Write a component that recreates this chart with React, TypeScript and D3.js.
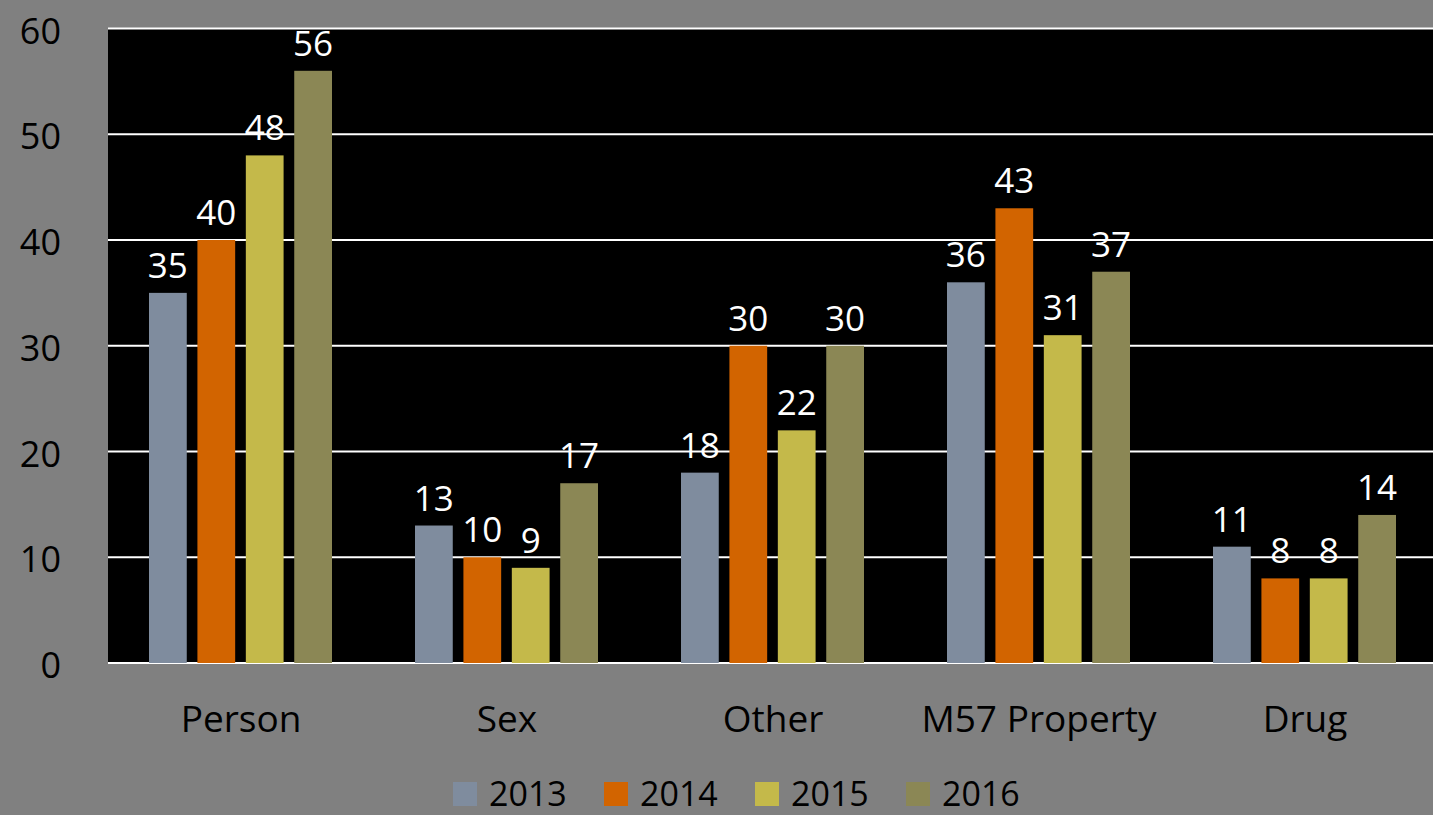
import React, { useEffect, useRef } from "react";
import * as d3 from "d3";

const categories = ["Person", "Sex", "Other", "M57 Property", "Drug"];
const years = ["2013", "2014", "2015", "2016"];
const values2013 = [35, 13, 18, 36, 11];
const values2014 = [40, 10, 30, 43, 8];
const values2015 = [48, 9, 22, 31, 8];
const values2016 = [56, 17, 30, 37, 14];
const yTicks = [0, 10, 20, 30, 40, 50, 60];
const colors = ["#7f8c9e", "#d26400", "#c4b94a", "#8b8755"];

const W = 1433;
const H = 815;
const FONT = "'Open Sans', sans-serif";

const App = () => {
  const ref = useRef<SVGSVGElement>(null);

  useEffect(() => {
    const svg = d3.select(ref.current);
    svg.selectAll("*").remove();

    const series = [values2013, values2014, values2015, values2016];
    const margin = { top: 28.5, bottom: 152, left: 108 };

    svg.append("rect").attr("width", W).attr("height", H).attr("fill", "#808080");

    // category bands run slightly past the right edge, as in the original
    const x = d3
      .scaleBand()
      .domain(categories)
      .range([margin.left, margin.left + 5 * 266])
      .paddingInner(0)
      .paddingOuter(0);

    const inner = d3
      .scaleBand()
      .domain(years)
      .range([41, x.bandwidth() - 42])
      .paddingInner(0.22);

    const y = d3.scaleLinear().domain([0, 60]).range([H - margin.bottom, margin.top]);

    svg
      .append("rect")
      .attr("x", margin.left)
      .attr("y", y(60))
      .attr("width", W - margin.left)
      .attr("height", y(0) - y(60))
      .attr("fill", "#000");

    // grid
    svg
      .append("g")
      .selectAll("line")
      .data(yTicks)
      .join("line")
      .attr("x1", margin.left)
      .attr("x2", W)
      .attr("y1", (d) => y(d))
      .attr("y2", (d) => y(d))
      .attr("stroke", "#fff")
      .attr("stroke-width", 2);

    // y labels
    svg
      .append("g")
      .selectAll("text")
      .data(yTicks)
      .join("text")
      .attr("x", 61)
      .attr("y", (d) => y(d) + 15)
      .attr("text-anchor", "end")
      .style("font-family", FONT)
      .style("font-size", "36px")
      .attr("fill", "#000")
      .text((d) => d);

    // bars
    const groups = svg
      .append("g")
      .selectAll("g")
      .data(categories)
      .join("g")
      .attr("transform", (d) => `translate(${x(d)},0)`);

    const cells = (ci: number) =>
      years.map((yr, si) => ({ yr, si, value: series[si][ci] }));

    groups
      .selectAll("rect")
      .data((d, ci) => cells(ci))
      .join("rect")
      .attr("x", (d) => inner(d.yr)!)
      .attr("y", (d) => y(d.value))
      .attr("width", inner.bandwidth())
      .attr("height", (d) => y(0) - y(d.value))
      .attr("fill", (d) => colors[d.si]);

    groups
      .selectAll("text")
      .data((d, ci) => cells(ci))
      .join("text")
      .attr("x", (d) => inner(d.yr)! + inner.bandwidth() / 2)
      .attr("y", (d) => y(d.value) - 15)
      .attr("text-anchor", "middle")
      .style("font-family", FONT)
      .style("font-size", "35px")
      .attr("fill", "#fff")
      .text((d) => d.value);

    // category labels
    svg
      .append("g")
      .selectAll("text")
      .data(categories)
      .join("text")
      .attr("x", (d) => x(d)! + x.bandwidth() / 2)
      .attr("y", 732)
      .attr("text-anchor", "middle")
      .style("font-family", FONT)
      .style("font-size", "37px")
      .attr("fill", "#000")
      .text((d) => d);

    // legend
    const legend = svg.append("g").attr("transform", "translate(453,782)");
    years.forEach((yr, i) => {
      const g = legend.append("g").attr("transform", `translate(${i * 151},0)`);
      g.append("rect").attr("width", 24).attr("height", 24).attr("fill", colors[i]);
      g.append("text")
        .attr("x", 36)
        .attr("y", 24)
        .style("font-family", FONT)
        .style("font-size", "34px")
        .attr("fill", "#000")
        .text(yr);
    });
  }, []);

  return (
    <svg
      ref={ref}
      width={W}
      height={H}
      style={{ display: "block", position: "absolute", top: 0, left: 0 }}
    />
  );
};

export default App;
